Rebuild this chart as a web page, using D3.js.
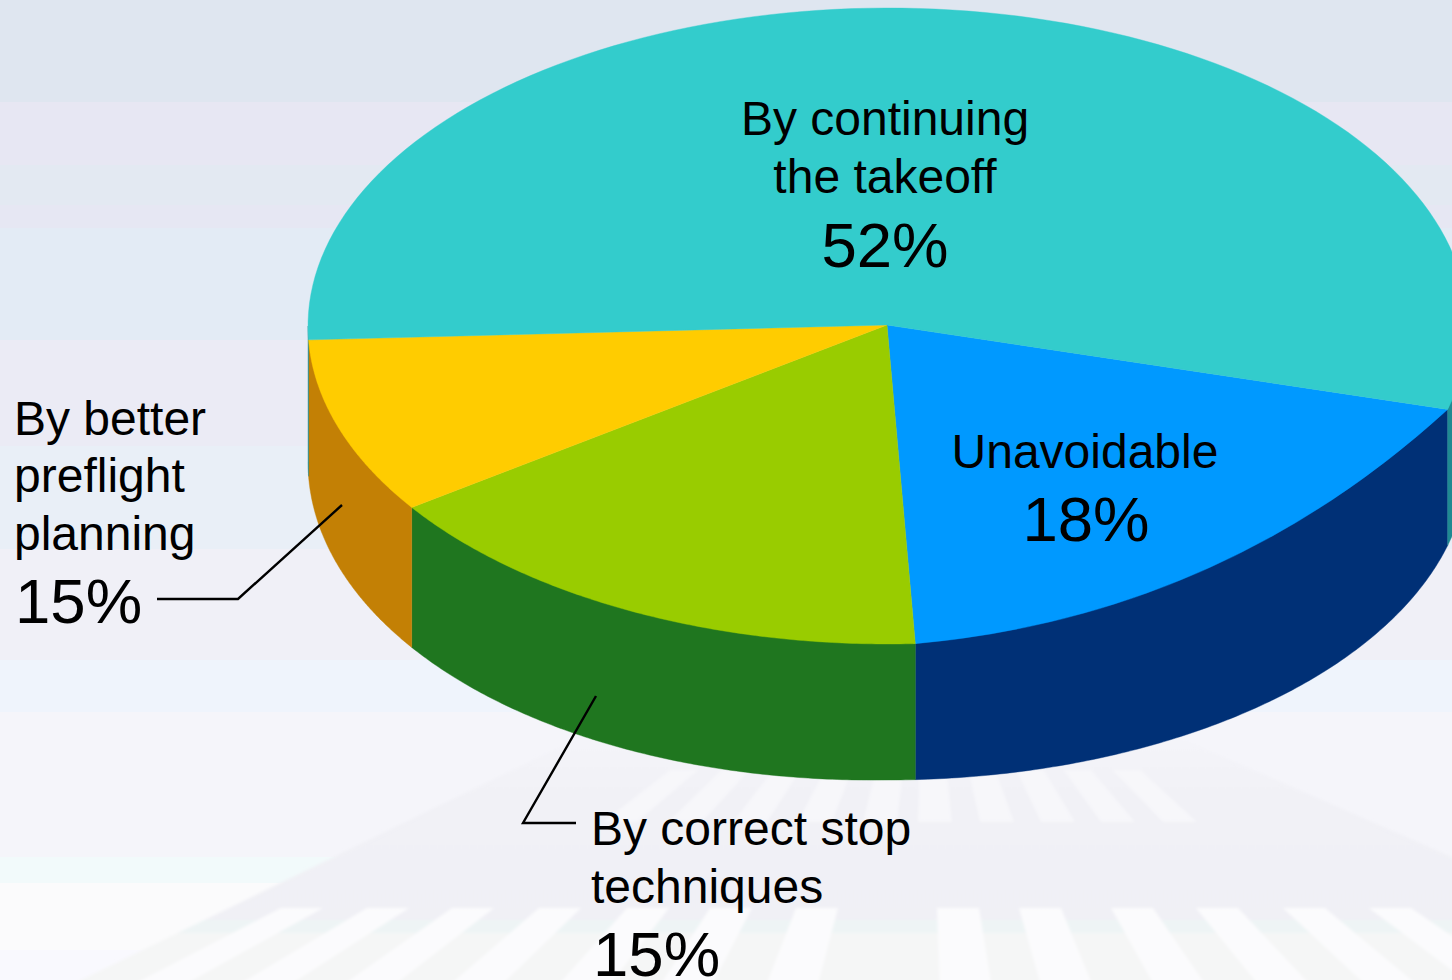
<!DOCTYPE html>
<html>
<head>
<meta charset="utf-8">
<script src="https://cdn.jsdelivr.net/npm/d3@7/dist/d3.min.js"></script>
<style>
html,body{margin:0;padding:0;background:#f8f9fd;overflow:hidden}
svg{display:block}
text{font-family:"Liberation Sans",Arial,sans-serif;fill:#000}
</style>
</head>
<body>
<script>
// Slices in drawing order, clockwise from the teal/blue boundary
const categories = ["Unavoidable", "By correct stop techniques", "By better preflight planning", "By continuing the takeoff"];
const labelledPercents = [18, 15, 15, 52];
// Sweep of each drawn slice (degrees): it differs from the printed labels
const drawnSweeps = [72.1, 57.9, 32.3, 197.7];
const topColors = ["#0099ff", "#99cc00", "#ffcc00", "#33cccc"];
const sideColors = ["#003076", "#1f761f", "#c38005", "#1f8a92"];
const labelLines = [["Unavoidable"], ["By correct stop", "techniques"], ["By better", "preflight", "planning"], ["By continuing", "the takeoff"]];

const bandEdges = [0, 102, 165, 205, 228, 340, 446, 549, 660, 712, 857, 883, 950, 980];
const bandColors = ["#dfe6f0", "#e7e7f3", "#e3e9f2", "#e6e7f3", "#e3ebf5", "#ebebf5", "#e9eff7", "#f0f0f7", "#eff4fc", "#f5f5fa", "#f2fafb", "#fbfbfc", "#f9f9fe"];
const upperStripeX = [620, 685, 750, 815, 880, 935, 997, 1058, 1118, 1180];
const lowerStripeX = [302, 388, 473, 560, 648, 731, 817, 958, 1040, 1132, 1217, 1304, 1390];

const W = 1452, H = 980;
const svg = d3.select("body").append("svg").attr("width", W).attr("height", H);
const defs = svg.append("defs");
defs.append("filter").attr("id", "soft").attr("x", "-5%").attr("y", "-5%").attr("width", "110%").attr("height", "110%")
  .append("feGaussianBlur").attr("stdDeviation", 1.6);
const grad = defs.append("linearGradient").attr("id", "fan").attr("gradientUnits", "userSpaceOnUse")
  .attr("x1", 0).attr("x2", 0).attr("y1", 740).attr("y2", 980);
[[0, "#f4f4f9"], [0.25, "#f1f1f6"], [0.75, "#f0f0f5"], [0.75, "#eef4f5"], [0.804, "#eef4f5"], [0.804, "#f5f6f6"], [1, "#f5f6f6"]]
  .forEach(([o, c]) => grad.append("stop").attr("offset", o).attr("stop-color", c));

// background bands
svg.append("g").selectAll("rect").data(bandColors).join("rect")
  .attr("x", 0).attr("width", W)
  .attr("y", (d, i) => bandEdges[i])
  .attr("height", (d, i) => bandEdges[i + 1] - bandEdges[i])
  .attr("fill", d => d);

// faint ray decoration
const bg = svg.append("g").attr("filter", "url(#soft)");
bg.append("path").attr("d", "M574,740L1185,740L1470,865L1470,1000L40,1000Z").attr("fill", "url(#fan)");
const apex = [925, 575];
function stripe(xRef, yRef, halfW, y0, y1) {
  const at = (x, y) => apex[0] + (x - apex[0]) * (y - apex[1]) / (yRef - apex[1]);
  return `M${at(xRef - halfW, y0)},${y0}L${at(xRef + halfW, y0)},${y0}L${at(xRef + halfW, y1)},${y1}L${at(xRef - halfW, y1)},${y1}Z`;
}
bg.selectAll(".u").data(upperStripeX).join("path").attr("class", "u")
  .attr("d", d => stripe(d, 822, 17, 770, 822)).attr("fill", "#f8f8fb").attr("opacity", 0.75);
bg.selectAll(".l").data(lowerStripeX).join("path").attr("class", "l")
  .attr("d", d => stripe(d, 908, 21, 908, 1000)).attr("fill", "#fbfbfd");

// pie geometry
const cx = 888, cy = 326, rx = 580, ry = 318, depth = 136;
const hub = [887, 325];
const startDeg = 105.2;
const toRad = Math.PI / 180;
const pie = d3.pie().sort(null).value(d => d)
  .startAngle(startDeg * toRad).endAngle((startDeg + 360) * toRad);
const arcs = pie(drawnSweeps);

// d3 angle (0 = up, clockwise) -> point on the ellipse
const rimX = a => cx + rx * Math.sin(a);
const rimY = a => cy - ry * Math.cos(a);
// the lower rim bulges a little on the lower-left quadrant of the reference
const lowerBulge = a => (a > Math.PI && a < 1.5 * Math.PI) ? 4.2 * Math.sin(2 * (a - Math.PI)) : 0;
const steps = 120;

// side walls: only the part of the rim that faces the viewer.
// The top edge is the chord, which the top face then covers.
const frontSpans = [[Math.PI / 2, 1.5 * Math.PI], [2.5 * Math.PI, 3.5 * Math.PI]];
function wall(a0, a1) {
  const p = d3.path();
  const angle = d3.scaleLinear().domain([0, steps]).range([a1, a0]);
  p.moveTo(rimX(a0), rimY(a0));
  p.lineTo(rimX(a1), rimY(a1));
  d3.range(steps + 1).forEach(i => {
    const a = angle(i);
    p.lineTo(rimX(a), rimY(a) + depth + lowerBulge(a));
  });
  p.closePath();
  return p.toString();
}
const walls = svg.append("g");
arcs.forEach((d, i) => {
  frontSpans.forEach(([s0, s1]) => {
    const a0 = Math.max(d.startAngle, s0), a1 = Math.min(d.endAngle, s1);
    if (a1 > a0) walls.append("path").attr("d", wall(a0, a1)).attr("fill", sideColors[i])
      .attr("stroke", sideColors[i]).attr("stroke-width", 0.4);
  });
});

// top face: the blue slice has a flatter outer edge than the ellipse in the reference
const flatSlice = 0, flatSag = 49;
function face(d, i) {
  const p = d3.path();
  p.moveTo(hub[0], hub[1]);
  p.lineTo(rimX(d.startAngle), rimY(d.startAngle));
  if (i === flatSlice) {
    const x0 = rimX(d.startAngle), y0 = rimY(d.startAngle), x1 = rimX(d.endAngle), y1 = rimY(d.endAngle);
    const len = Math.hypot(x1 - x0, y1 - y0);
    const nx = -(y1 - y0) / len, ny = (x1 - x0) / len;
    const sign = ny > 0 ? 1 : -1;
    p.quadraticCurveTo((x0 + x1) / 2 + sign * 2 * flatSag * nx, (y0 + y1) / 2 + sign * 2 * flatSag * ny, x1, y1);
  } else {
    const angle = d3.scaleLinear().domain([0, steps]).range([d.startAngle, d.endAngle]);
    d3.range(1, steps + 1).forEach(k => p.lineTo(rimX(angle(k)), rimY(angle(k))));
  }
  p.closePath();
  return p.toString();
}
svg.append("g").selectAll("path").data(arcs).join("path")
  .attr("d", face).attr("fill", (d, i) => topColors[i])
  .attr("stroke", (d, i) => topColors[i]).attr("stroke-width", 0.4);

// leader lines
const line = d3.line();
const leaders = [
  [[157, 599], [238, 599], [342, 505]],
  [[596, 696], [523, 823], [576, 823]]
];
svg.append("g").selectAll("path").data(leaders).join("path")
  .attr("d", d => line(d)).attr("fill", "none").attr("stroke", "#000").attr("stroke-width", 2.4);

// labels
const placements = [
  { x: 1085, anchor: "middle", base: [468], pct: 541, px: 1086 },
  { x: 591, anchor: "start", base: [845, 903], pct: 976, px: 593 },
  { x: 14, anchor: "start", base: [435, 492, 550], pct: 622.5, px: 15 },
  { x: 885, anchor: "middle", base: [135, 193], pct: 267, px: 885 }
];
const labels = svg.append("g");
placements.forEach((p, i) => {
  labelLines[i].forEach((t, j) => {
    labels.append("text").attr("x", p.x).attr("y", p.base[j]).attr("text-anchor", p.anchor)
      .attr("font-size", 48).text(t);
  });
  labels.append("text").attr("x", p.px).attr("y", p.pct).attr("text-anchor", p.anchor)
    .attr("font-size", 63.5).text(labelledPercents[i] + "%");
});
</script>
</body>
</html>
